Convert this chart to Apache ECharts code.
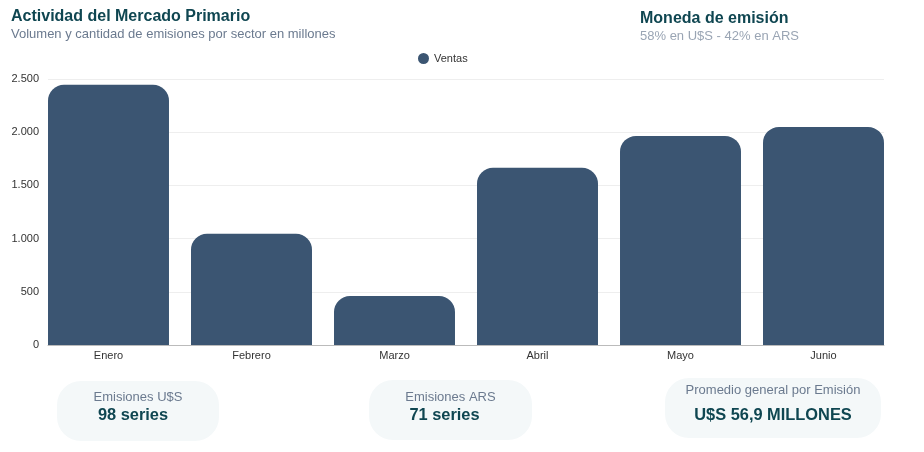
<!DOCTYPE html>
<html><head><meta charset="utf-8">
<script src="https://cdn.jsdelivr.net/npm/echarts@6/dist/echarts.min.js"></script>
<style>html,body{margin:0;padding:0;background:#fff}#c{width:924px;height:452px}</style>
</head><body><div id="c"></div>
<script>
const categories = ['Enero','Febrero','Marzo','Abril','Mayo','Junio'];
const ventas = [2445, 1045, 460, 1665, 1965, 2050];
const yTicks = [0, 500, 1000, 1500, 2000, 2500];
const cardTitles = ['Emisiones U$S','Emisiones ARS','Promedio general por Emisión'];
const cardValues = ['98 series','71 series','U$S 56,9 MILLONES'];

const font = 'Liberation Sans, Arial, sans-serif';
const fmt = v => String(v).replace(/\B(?=(\d{3})+(?!\d))/g, '.');
const chart = echarts.init(document.getElementById('c'), null, {renderer:'canvas'});

function card(x, y, w, h, t, v, tdy, vdy, vdx) {
  return {type:'group', children:[
    {type:'rect', shape:{x:x, y:y, width:w, height:h, r:24}, style:{fill:'#f4f8f9'}},
    {type:'text', x:x+w/2, y:y+tdy, style:{text:t, font:'13px '+font, fill:'#6b7a8f', align:'center', verticalAlign:'middle'}},
    {type:'text', x:x+w/2+vdx, y:y+vdy, style:{text:v, font:'bold 16.4px '+font, fill:'#0f4651', align:'center', verticalAlign:'middle'}}
  ]};
}

chart.setOption({
  animation:false,
  textStyle:{fontFamily:font},
  title:[
    {text:'Actividad del Mercado Primario', subtext:'Volumen y cantidad de emisiones por sector en millones', left:6, top:4,
     itemGap:3,
     textStyle:{fontSize:16, fontWeight:'bold', color:'#0f4651', fontFamily:font},
     subtextStyle:{fontSize:13, color:'#6b7a8f', fontFamily:font}},
    {text:'Moneda de emisión', subtext:'58% en U$S - 42% en ARS', left:635, top:6,
     itemGap:3,
     textStyle:{fontSize:16, fontWeight:'bold', color:'#0f4651', fontFamily:font},
     subtextStyle:{fontSize:13, color:'#9aa5b4', fontFamily:font}}
  ],
  legend:{data:['Ventas'], top:48, left:413, icon:'circle', itemWidth:11, itemHeight:11,
    textStyle:{fontSize:11, color:'#333', fontFamily:font}},
  grid:[
    {left:48, right:40, top:79, bottom:107},
    {left:37, right:29, top:79, bottom:107}
  ],
  xAxis:[
    {type:'category', gridIndex:0, data:categories,
      axisLine:{lineStyle:{color:'#bbb'}}, axisTick:{show:false}, axisLabel:{show:false}},
    {type:'category', gridIndex:1, data:categories,
      axisLine:{show:false}, axisTick:{show:false},
      axisLabel:{fontSize:11, color:'#333', margin:5, fontFamily:font}}
  ],
  yAxis:[
    {type:'value', gridIndex:0, min:0, max:2500, interval:500,
      axisLabel:{fontSize:11, color:'#333', margin:9, fontFamily:font, formatter:v=>yTicks.includes(v)?fmt(v):''},
      splitLine:{lineStyle:{color:'#eeeeee'}}},
    {type:'value', gridIndex:1, min:0, max:2500, interval:500, show:false, splitLine:{show:false}}
  ],
  series:[{name:'Ventas', type:'bar', xAxisIndex:1, yAxisIndex:1, data:ventas, barCategoryGap:'15.4%',
    itemStyle:{color:'#3b5572', borderRadius:[16,16,0,0]}}],
  graphic:[
    card(57, 381, 162, 60, cardTitles[0], cardValues[0], 16, 34, -5),
    card(369, 380, 163, 60, cardTitles[1], cardValues[1], 17, 35, -6),
    card(665, 378, 216, 60, cardTitles[2], cardValues[2], 12, 37, 0)
  ]
});
</script></body></html>
